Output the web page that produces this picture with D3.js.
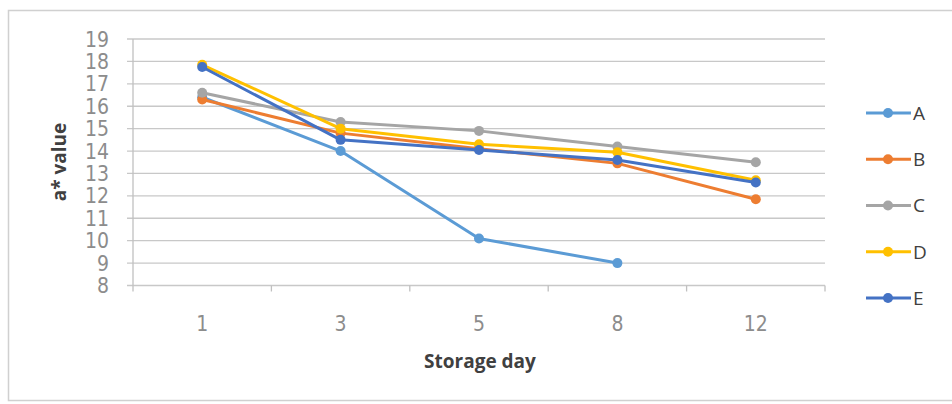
<!DOCTYPE html>
<html>
<head>
<meta charset="utf-8">
<script src="https://cdn.jsdelivr.net/npm/d3@7/dist/d3.min.js"></script>
<style>
  html, body { margin: 0; padding: 0; background: #fff; }
  svg { display: block; }
</style>
</head>
<body>
<svg id="chart" width="952" height="404"></svg>
<script>
// Storage days (category axis)
const days = ["1", "3", "5", "8", "12"];

// a* value per treatment across storage days (null = not measured)
const seriesA = [16.4, 14.0, 10.1, 9.0, null];
const seriesB = [16.3, 14.8, 14.1, 13.45, 11.85];
const seriesC = [16.6, 15.3, 14.9, 14.2, 13.5];
const seriesD = [17.85, 15.0, 14.3, 13.95, 12.7];
const seriesE = [17.75, 14.5, 14.05, 13.6, 12.6];

const seriesNames = ["A", "B", "C", "D", "E"];
const seriesColors = ["#5B9BD5", "#ED7D31", "#A5A5A5", "#FFC000", "#4472C4"];
const yTicks = [8, 9, 10, 11, 12, 13, 14, 15, 16, 17, 18, 19];

const series = [seriesA, seriesB, seriesC, seriesD, seriesE].map((vals, i) => ({
  name: seriesNames[i],
  color: seriesColors[i],
  values: vals.map((v, j) => ({ day: days[j], v }))
}));

const svg = d3.select("#chart");

// Outer chart frame
svg.append("rect")
  .attr("x", 8.5).attr("y", 10.5)
  .attr("width", 960).attr("height", 390)
  .attr("fill", "#fff")
  .attr("stroke", "#d0d0d0").attr("stroke-width", 1.5);

const plot = { left: 133, right: 825, top: 39, bottom: 285.5 };

const x = d3.scaleBand().domain(days).range([plot.left, plot.right]);
const y = d3.scaleLinear().domain([8, 19]).range([plot.bottom, plot.top]);

const tickFont = "'Liberation Sans Narrow', 'DejaVu Sans Condensed', sans-serif";

// Horizontal gridlines
svg.append("g")
  .selectAll("line")
  .data(yTicks)
  .join("line")
  .attr("x1", plot.left - 6).attr("x2", plot.right)
  .attr("y1", d => y(d)).attr("y2", d => y(d))
  .attr("stroke", "#c8c8c8").attr("stroke-width", 1.3);

// Y axis line
svg.append("line")
  .attr("x1", plot.left).attr("x2", plot.left)
  .attr("y1", plot.top).attr("y2", plot.bottom)
  .attr("stroke", "#c0c0c0").attr("stroke-width", 1.3);

// X axis ticks at band boundaries
const bounds = days.map(d => x(d)).concat([plot.right]);
svg.append("g")
  .selectAll("line")
  .data(bounds)
  .join("line")
  .attr("x1", d => d).attr("x2", d => d)
  .attr("y1", plot.bottom).attr("y2", plot.bottom + 6)
  .attr("stroke", "#c0c0c0").attr("stroke-width", 1.3);

// Y tick labels
svg.append("g")
  .selectAll("text")
  .data(yTicks)
  .join("text")
  .attr("x", 109).attr("y", d => y(d))
  .attr("dy", "0.36em")
  .attr("text-anchor", "end")
  .attr("font-family", tickFont)
  .attr("font-size", 21)
  .attr("fill", "#8c8c8c")
  .text(d => d);

// X tick labels
svg.append("g")
  .selectAll("text")
  .data(days)
  .join("text")
  .attr("x", d => x(d) + x.bandwidth() / 2)
  .attr("y", 331)
  .attr("text-anchor", "middle")
  .attr("font-family", tickFont)
  .attr("font-size", 21)
  .attr("fill", "#8c8c8c")
  .text(d => d);

// Axis titles
svg.append("text")
  .attr("x", 480).attr("y", 368)
  .attr("text-anchor", "middle")
  .attr("font-family", "Open Sans, sans-serif")
  .attr("font-weight", "bold")
  .attr("font-size", 19)
  .attr("fill", "#404040")
  .text("Storage day");

svg.append("text")
  .attr("transform", "translate(66,162) rotate(-90)")
  .attr("text-anchor", "middle")
  .attr("font-family", "Open Sans, sans-serif")
  .attr("font-weight", "bold")
  .attr("font-size", 19)
  .attr("fill", "#404040")
  .text("a* value");

// Series lines and markers
const line = d3.line()
  .defined(d => d.v != null)
  .x(d => x(d.day) + x.bandwidth() / 2)
  .y(d => y(d.v));

const g = svg.append("g");
series.forEach(s => {
  g.append("path")
    .datum(s.values)
    .attr("fill", "none")
    .attr("stroke", s.color)
    .attr("stroke-width", 3)
    .attr("stroke-linejoin", "round")
    .attr("d", line);
  g.selectAll(null)
    .data(s.values.filter(d => d.v != null))
    .join("circle")
    .attr("cx", d => x(d.day) + x.bandwidth() / 2)
    .attr("cy", d => y(d.v))
    .attr("r", 5)
    .attr("fill", s.color);
});

// Legend
const legendY = d3.scalePoint().domain(seriesNames).range([113, 298]);
const legend = svg.append("g")
  .selectAll("g")
  .data(series)
  .join("g")
  .attr("transform", d => `translate(0,${legendY(d.name)})`);
legend.append("line")
  .attr("x1", 866).attr("x2", 911)
  .attr("stroke", d => d.color).attr("stroke-width", 3);
legend.append("circle")
  .attr("cx", 888).attr("r", 5)
  .attr("fill", d => d.color);
legend.append("text")
  .attr("x", 913).attr("dy", "0.36em")
  .attr("font-family", "Open Sans, sans-serif")
  .attr("font-size", 19)
  .attr("fill", "#404040")
  .text(d => d.name);
</script>
</body>
</html>
